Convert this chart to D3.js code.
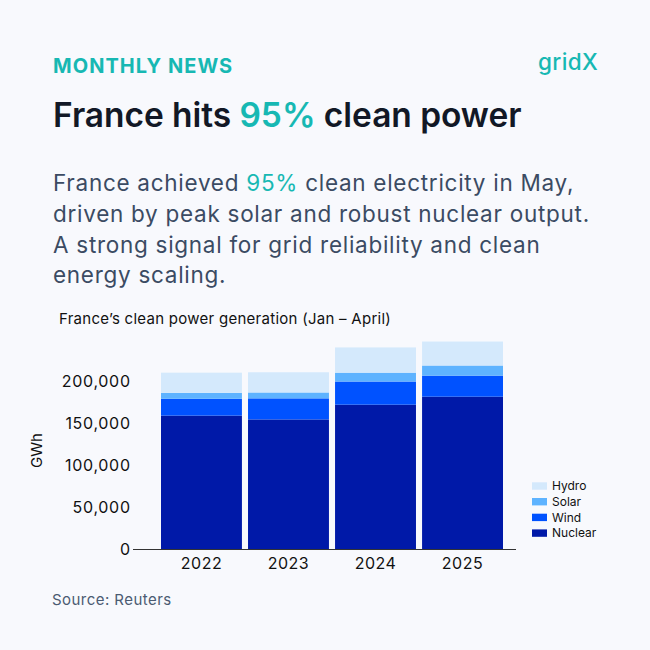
<!DOCTYPE html>
<html>
<head>
<meta charset="utf-8">
<script src="https://cdn.jsdelivr.net/npm/d3@7"></script>
<style>
  html, body { margin: 0; padding: 0; background: #f8f9fd; }
  svg { display: block; }
  text { font-family: Inter, "Noto Sans", sans-serif; }
</style>
</head>
<body>
<svg id="chart" width="650" height="650"></svg>
<script>
const years = ["2022", "2023", "2024", "2025"];
const nuclear = [159000, 154500, 172000, 181500];
const wind = [20000, 25000, 27500, 25000];
const solar = [7000, 7000, 10500, 12000];
const hydro = [24000, 24000, 30000, 28500];
const seriesNames = ["Nuclear", "Wind", "Solar", "Hydro"];
const seriesColors = ["#0019a8", "#0052ff", "#5eb3ff", "#d4e9fc"];
const yTicks = [0, 50000, 100000, 150000, 200000];

const rows = years.map((y, i) => ({ year: y, Nuclear: nuclear[i], Wind: wind[i], Solar: solar[i], Hydro: hydro[i] }));

const svg = d3.select("#chart");
svg.append("rect").attr("width", 650).attr("height", 650).attr("fill", "#f8f9fd");

const teal = "#17b8b3";

// Header
svg.append("text").attr("x", 53).attr("y", 72.5)
  .attr("font-size", 20).attr("font-weight", 700).attr("fill", teal)
  .attr("letter-spacing", 1.05)
  .text("MONTHLY NEWS");
svg.append("text").attr("x", 538).attr("y", 70)
  .attr("font-size", 22.5).attr("font-weight", 500).attr("fill", teal)
  .attr("letter-spacing", 0.4)
  .text("gridX");

const title = svg.append("text").attr("x", 53).attr("y", 127)
  .attr("font-size", 33.5).attr("font-weight", 600).attr("fill", "#121826")
  .attr("letter-spacing", -0.05);
title.append("tspan").text("France hits ");
title.append("tspan").attr("fill", teal).text("95%");
title.append("tspan").text(" clean power");

const paraLines = [
  ["France achieved ", "95%", " clean electricity in May,"],
  ["driven by peak solar and robust nuclear output."],
  ["A strong signal for grid reliability and clean"],
  ["energy scaling."]
];
const paraY = [191, 222, 253, 283];
paraLines.forEach((parts, i) => {
  const t = svg.append("text").attr("x", 53).attr("y", paraY[i])
    .attr("font-size", 22.5).attr("font-weight", 400).attr("fill", "#3b4b63")
    .attr("letter-spacing", 0.72);
  parts.forEach((p, j) => {
    const ts = t.append("tspan").text(p);
    if (parts.length > 1 && j === 1) ts.attr("fill", teal);
  });
});

svg.append("text").attr("x", 59).attr("y", 324)
  .attr("font-size", 15).attr("fill", "#111111")
  .attr("letter-spacing", 0.27)
  .text("France\u2019s clean power generation (Jan \u2013 April)");

// Chart
const x = d3.scaleBand().domain(years).range([161, 503]).paddingInner(0.07).paddingOuter(0);
const y = d3.scaleLinear().domain([0, 250000]).range([549.5, 339]);

const stack = d3.stack().keys(seriesNames);
const stacked = stack(rows);
const color = d3.scaleOrdinal().domain(seriesNames).range(seriesColors);

svg.append("g").selectAll("g").data(stacked).join("g")
  .attr("fill", d => color(d.key))
  .selectAll("rect").data(d => d).join("rect")
  .attr("x", d => x(d.data.year))
  .attr("y", d => y(d[1]))
  .attr("width", x.bandwidth())
  .attr("height", d => y(d[0]) - y(d[1]));

// Y axis
const yAxis = d3.axisLeft(y).tickValues(yTicks).tickSize(0).tickPadding(0)
  .tickFormat(d3.format(","));
const gy = svg.append("g").attr("transform", "translate(130.7,0)").call(yAxis);
gy.select(".domain").remove();
gy.selectAll("text").attr("font-size", 16).attr("fill", "#111111")
  .attr("letter-spacing", 0.7)
  .attr("font-family", "Inter, sans-serif");

// X axis
const xAxis = d3.axisBottom(x).tickSize(0).tickPadding(8);
const gx = svg.append("g").attr("transform", `translate(0,${y(0)})`).call(xAxis);
gx.select(".domain").remove();
gx.selectAll("text").attr("font-size", 16).attr("fill", "#111111")
  .attr("letter-spacing", 0.5)
  .attr("font-family", "Inter, sans-serif");

svg.append("line").attr("x1", 133).attr("x2", 516)
  .attr("y1", y(0)).attr("y2", y(0))
  .attr("stroke", "#333333").attr("stroke-width", 1.2);

svg.append("text")
  .attr("transform", "translate(41.5,450.5) rotate(-90)")
  .attr("text-anchor", "middle")
  .attr("font-size", 15).attr("fill", "#111111")
  .text("GWh");

// Legend
const legendOrder = ["Hydro", "Solar", "Wind", "Nuclear"];
const lg = svg.append("g").selectAll("g").data(legendOrder).join("g")
  .attr("transform", (d, i) => `translate(532,${486 + i * 15.7})`);
lg.append("rect").attr("x", 0).attr("y", -3.7).attr("width", 15).attr("height", 7.4)
  .attr("fill", d => color(d));
lg.append("text").attr("x", 20).attr("y", 4.3)
  .attr("font-size", 12).attr("fill", "#111111").text(d => d);

svg.append("text").attr("x", 52).attr("y", 605)
  .attr("font-size", 15).attr("fill", "#4b5b72")
  .attr("letter-spacing", 0.45)
  .text("Source: Reuters");
</script>
</body>
</html>
